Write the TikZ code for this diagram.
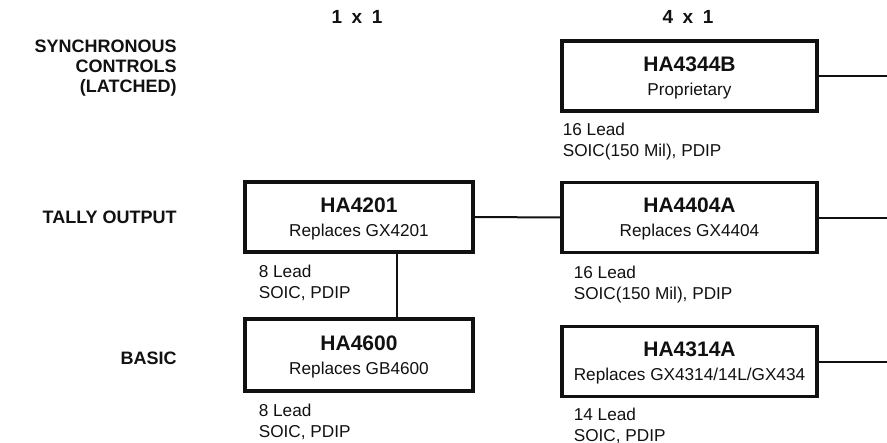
\documentclass[tikz,border=0pt]{standalone}
\usepackage{fontspec}
\setmainfont{Liberation Sans}
\usetikzlibrary{positioning,calc}
\definecolor{ink}{HTML}{111111}
\newcommand{\hdrfont}{\fontsize{9.5}{10}\selectfont\bfseries\spaceskip=0.5em\relax}
\tikzset{
  every picture/.style={line cap=butt, line join=miter},
  chip/.style={draw=ink, line width=1.6pt, minimum width=127.5pt, minimum height=35pt,
    align=center, inner sep=0pt, text=ink, text depth=0pt, font=\fontsize{8.6}{12}\selectfont},
  narrow/.style={chip, minimum width=114pt},
  link/.style={draw=ink, line width=1pt},
  pkg/.style={font=\fontsize{8.6}{10.5}\selectfont, align=left, inner sep=0pt,
    anchor=north west, text=ink},
  rowlbl/.style={font=\fontsize{9}{10}\selectfont\bfseries, align=right, anchor=east,
    inner sep=0pt, text=ink},
  colhdr/.style={font=\hdrfont, inner sep=0pt, text=ink},
}
\newcommand{\chipid}[2]{{\fontsize{10.5}{12}\selectfont\bfseries #1}\\#2}

\begin{document}
\begin{tikzpicture}[x=0.5pt, y=-0.5pt]
  \useasboundingbox (0,0) rectangle (887,443);
  \coordinate (edge) at (887,0);
  % ======================= headings =======================
  \node[colhdr] (h1) at (357,17) {1 x 1};
  \node[colhdr] (h4) at (688,17) {4 x 1};
  \node[rowlbl] (sync) at (177,68) {SYNCHRONOUS\\CONTROLS\\(LATCHED)};
  \node[rowlbl] (tally) at (177,217) {TALLY OUTPUT};
  \node[rowlbl] (basic) at (177,358) {BASIC};

  % ======================= 1 x 1 column =======================
  \node[narrow] (HA4201) at (359,217) {\chipid{HA4201}{Replaces GX4201}};
  \node[narrow, minimum height=36pt] (HA4600) at (359,355) {\chipid{HA4600}{Replaces GB4600}};
  \node[pkg] (p4201) at ([xshift=7.5pt, yshift=-5.5pt]HA4201.south west) {8 Lead\\SOIC, PDIP};
  \node[pkg] (p4600) at ([xshift=7.5pt, yshift=-5.5pt]HA4600.south west) {8 Lead\\SOIC, PDIP};

  % ======================= 4 x 1 column =======================
  \node[chip] (HA4344B) at (689.5,76) {\chipid{HA4344B}{Proprietary}};
  \node[chip] (HA4404A) at (689.5,217.5) {\chipid{HA4404A}{Replaces GX4404}};
  \node[chip] (HA4314A) at (689.5,361.5) {\chipid{HA4314A}{Replaces GX4314/14L/GX434}};
  \node[pkg] (p4344) at ([xshift=1pt, yshift=-5pt]HA4344B.south west) {16 Lead\\SOIC(150 Mil), PDIP};
  \node[pkg] (p4404) at ([xshift=6.5pt, yshift=-6pt]HA4404A.south west) {16 Lead\\SOIC(150 Mil), PDIP};
  \node[pkg] (p4314) at ([xshift=6.5pt, yshift=-5pt]HA4314A.south west) {14 Lead\\SOIC, PDIP};

  % ======================= connections =======================
  \draw[link] (HA4201.east) -- (HA4404A.west);
  \draw[link] ([xshift=19pt]HA4201.south) -- ([xshift=19pt]HA4600.north);
  \draw[link] (HA4344B.east) -- (HA4344B.east -| edge);
  \draw[link] (HA4404A.east) -- (HA4404A.east -| edge);
  \draw[link] (HA4314A.east) -- (HA4314A.east -| edge);
\end{tikzpicture}
\end{document}
